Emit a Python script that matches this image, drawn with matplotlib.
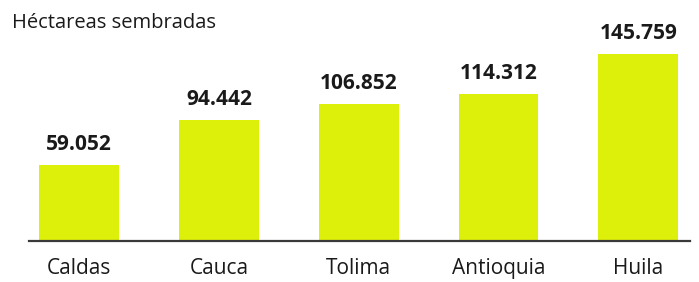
import matplotlib.pyplot as plt

departamentos = ["Caldas", "Cauca", "Tolima", "Antioquia", "Huila"]
hectareas = [59052, 94442, 106852, 114312, 145759]
etiquetas = ["59.052", "94.442", "106.852", "114.312", "145.759"]

plt.rcParams['font.family'] = ['Open Sans', 'DejaVu Sans']

fig = plt.figure(figsize=(6.99, 2.82), dpi=100)
ax = fig.add_axes([29 / 699, 41 / 282, 661 / 699, 221 / 282])

x = range(len(departamentos))
bars = ax.bar(x, hectareas, width=0.57, color='#dcf00a', zorder=1)

for b, lab in zip(bars, etiquetas):
    ax.annotate(lab, (b.get_x() + b.get_width() / 2, b.get_height()),
                xytext=(0, 7), textcoords='offset points',
                ha='center', va='bottom', fontsize=15, fontweight='bold',
                color='#1a1a1a')

ax.set_xlim(-0.36, 4.37)
ax.set_ylim(0, 172000)
ax.set_xticks(list(x))
ax.set_xticklabels(departamentos, fontsize=15, color='#1a1a1a')
ax.tick_params(axis='x', length=0, pad=12)
ax.set_yticks([])

for s in ['top', 'right', 'left']:
    ax.spines[s].set_visible(False)
ax.spines['bottom'].set_color('#3a3a3a')
ax.spines['bottom'].set_linewidth(1.6)
ax.spines['bottom'].set_zorder(3)

fig.text(12 / 699, 1 - 23 / 282, "Héctareas sembradas", fontsize=14.5,
         ha='left', va='center', color='#1a1a1a')

fig.savefig("out.png", dpi=100)
